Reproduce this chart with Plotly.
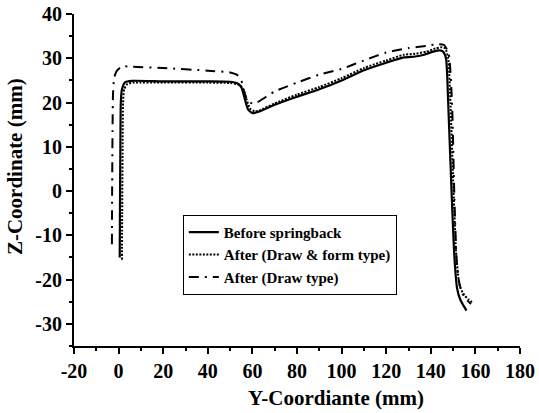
import plotly.graph_objects as go

# Before springback (solid)
before_y = [0.5, 0.6, 0.8, 1.0, 1.5, 3, 6, 20, 40, 50, 53, 55, 56.5, 58, 60, 62, 70, 80, 90, 100, 110, 120, 128, 133, 137, 141, 144, 145.5, 146.8, 147.8, 149.3, 150.6, 151.8, 153.2, 154.8, 156]
before_z = [-15, -5, 10, 20, 23, 24.6, 24.9, 24.8, 24.8, 24.7, 24.4, 23.5, 21, 18.5, 17.6, 17.8, 19.5, 21.3, 23, 25, 27.3, 29, 30.2, 30.4, 30.8, 31.5, 31.8, 31.5, 30, 20, 0, -15, -22, -24.5, -26, -27]

# After (Draw & form type) (dotted)
form_y = [1.5, 1.6, 1.8, 2.0, 2.5, 4, 7, 20, 40, 50, 54, 56, 57.5, 59, 61, 63, 70, 80, 90, 100, 110, 120, 128, 133, 138, 142, 145, 146.5, 147.8, 148.8, 150.2, 151.5, 153, 155, 157, 159]
form_z = [-15.5, -5, 10, 20, 23, 24.2, 24.5, 24.5, 24.5, 24.4, 24, 23, 20.5, 18.6, 18, 18.2, 19.8, 21.8, 23.5, 25.5, 27.8, 29.5, 30.8, 31, 31.5, 32.2, 32.5, 32.2, 30, 20, 0, -15, -21.5, -23.5, -24.5, -25.3]

# After (Draw type) (dash-dot)
draw_y = [-3, -2.9, -2.7, -2.5, -2, -1, 1, 3, 5, 20, 40, 50, 53, 55, 56.5, 58, 60, 62, 70, 80, 90, 100, 110, 120, 130, 138, 143, 146, 148, 149.5, 150.5, 151.5, 152.5, 154, 156, 158]
draw_z = [-12, 0, 15, 22, 25.5, 27, 28, 28.2, 28.1, 27.8, 27.2, 26.8, 26.3, 25, 22, 20.3, 19.8, 20, 22.5, 24.5, 26.3, 27.6, 29.5, 31.3, 32.3, 32.8, 33.2, 33, 31, 20, 0, -15, -20, -23, -24.5, -25.5]

x_ticks = [-20, 0, 20, 40, 60, 80, 100, 120, 140, 160, 180]
x_labels = ["-20", "0", "20", "40", "60", "80", "100", "120", "140", "160", "180"]
y_ticks = [-30, -20, -10, 0, 10, 20, 30, 40]
y_labels = ["-30", "-20", "-10", "0", "10", "20", "30", "40"]

FONT = "Liberation Serif"

fig = go.Figure()
fig.add_trace(go.Scatter(x=before_y, y=before_z, mode="lines", name="Before springback",
                         line=dict(color="black", width=2.2, shape="spline", smoothing=0.6)))
fig.add_trace(go.Scatter(x=form_y, y=form_z, mode="lines", name="After (Draw & form type)",
                         line=dict(color="black", width=2, dash="2px,1.5px", shape="spline", smoothing=0.6)))
fig.add_trace(go.Scatter(x=draw_y, y=draw_z, mode="lines", name="After (Draw type)",
                         line=dict(color="black", width=2, dash="10px,6px,2px,6px", shape="spline", smoothing=0.6)))

fig.update_layout(
    width=539, height=413, autosize=False,
    margin=dict(l=74, r=19, t=14, b=67, pad=0),
    plot_bgcolor="white", paper_bgcolor="white",
    font=dict(family=FONT, color="black", size=16, weight="bold"),
    showlegend=True,
    legend=dict(x=0.244, y=0.395, xanchor="left", yanchor="top",
                bordercolor="black", borderwidth=1, bgcolor="white",
                font=dict(family=FONT, size=15, weight="bold", color="black"),
                tracegroupgap=0, itemwidth=30),
    annotations=[
        dict(text="Y-Coordiante (mm)", xref="paper", yref="paper", x=0.587, y=-0.157,
             xanchor="center", yanchor="middle", showarrow=False,
             font=dict(family=FONT, size=21, weight="bold", color="black")),
        dict(text="Z-Coordinate (mm)", xref="paper", yref="paper", x=-0.1323, y=0.542,
             xanchor="center", yanchor="middle", showarrow=False, textangle=-90,
             font=dict(family=FONT, size=21, weight="bold", color="black")),
    ],
)
fig.update_xaxes(
    range=[-20, 180], showgrid=False, zeroline=False, automargin=False,
    showline=True, linecolor="black", linewidth=2,
    ticks="outside", ticklen=6, tickwidth=2, tickcolor="black",
    tickvals=x_ticks, ticktext=x_labels,
    minor=dict(ticks="outside", ticklen=3, tickwidth=2, tickcolor="black", dtick=10, tick0=0),
    tickfont=dict(family=FONT, size=20, weight="bold", color="black"),
)
fig.update_yaxes(
    range=[-35, 40], showgrid=False, zeroline=False, automargin=False,
    showline=True, linecolor="black", linewidth=2,
    ticks="outside", ticklen=6, tickwidth=2, tickcolor="black",
    tickvals=y_ticks, ticktext=y_labels,
    minor=dict(ticks="outside", ticklen=3, tickwidth=2, tickcolor="black", dtick=5, tick0=0),
    tickfont=dict(family=FONT, size=20, weight="bold", color="black"),
)

fig.write_html("out.html", config={"displayModeBar": False},
               post_script="document.body.style.margin='0';")
